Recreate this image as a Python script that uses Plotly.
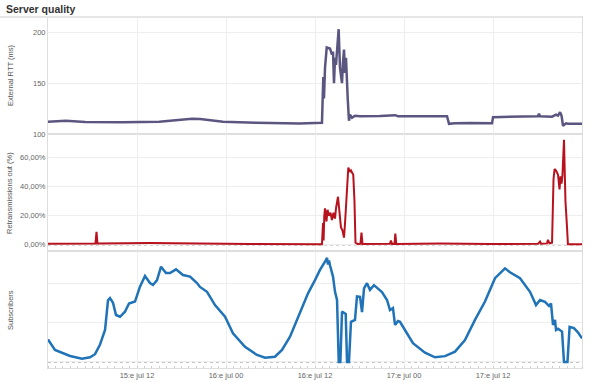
import datetime as dt
import plotly.graph_objects as go
from plotly.subplots import make_subplots

BASE = dt.datetime(2015, 7, 15, 0, 0)

# ---- External RTT (ms) ----
rtt_hours = [0, 2.4, 5, 10, 15, 19.4, 20.5, 23.6, 28, 33.9, 36.94, 37.12, 37.21, 37.35, 37.58,
             38.02, 38.29, 38.43, 38.56, 38.70, 38.83, 39.03, 39.19, 39.37, 39.64, 39.77, 39.91,
             40.05, 40.18, 40.41, 40.58, 40.72, 40.99, 41.39, 42.07, 44.77, 46.79, 47.19, 50.16,
             53.80, 54.07, 54.88, 56.9, 59.87, 60.0, 62.3, 66.07, 66.2, 66.34, 67.96, 68.5,
             68.77, 69.04, 69.24, 69.44, 69.84, 70.1, 72.0]
rtt_values = [112, 113, 111.8, 111.5, 112, 115, 114.7, 112, 111, 110.3, 111, 156, 135, 165, 185,
              184, 178, 181, 150, 175, 168, 185, 203, 165, 150, 170, 183,
              160, 175, 135, 113, 119, 116, 118, 117.5, 117.6, 118.5, 117.5, 117.3,
              117.5, 110, 110.5, 110.8, 110.5, 116.5, 116.8, 117.5, 120, 117.5, 117, 119,
              118, 121.5, 118, 108, 110.5, 110, 110]

# ---- Retransmissions out (%) ----
ret_hours = [0, 5.66, 6.4, 6.54, 6.67, 13.75, 19.15, 20.5, 27.2, 36.94, 37.08, 37.16, 37.25,
             37.35, 37.55, 37.69, 37.89, 38.09, 38.29, 38.49, 38.7, 38.83, 39.1, 39.3, 39.5,
             39.7, 39.91, 40.05, 40.25, 40.49, 40.72, 40.85, 41.16, 41.32, 41.46, 41.8, 42.13,
             42.27, 42.4, 43.4, 46.1, 46.24, 46.38, 46.72, 46.83, 46.96, 52.9, 59.6, 66.07,
             66.34, 66.47, 67.28, 67.41, 67.62, 67.96, 68.16, 68.3, 68.5, 68.77, 68.97, 69.1,
             69.24, 69.37, 69.57, 69.77, 69.98, 70.1, 72.0]
ret_values = [0.7, 0.9, 0.9, 9, 0.9, 1.3, 1.4, 1.0, 0.6, 0.5, 15, 3, 20,
              25, 16, 24, 20, 22, 17, 22, 18, 25, 33, 22, 12,
              10, 5, 15, 31, 53, 50, 51, 48, 30, 1.5, 0.5, 0.8,
              8.5, 0.6, 0.6, 0.8, 3, 0.7, 0.8, 7.7, 0.6, 0.9, 0.6, 0.7,
              2.3, 0.8, 1.0, 3.5, 1.0, 1.5, 45, 52, 51, 48, 38, 47,
              42, 48, 72, 30, 12, 0.5, 0.5]

# ---- Subscribers ----
sub_hours = [0, 0.94, 2.97, 4.58, 5.66, 6.34, 7.0, 7.69, 8.09, 8.36, 8.76, 9.17, 9.71, 10.38,
             10.92, 11.73, 12.4, 13.08, 13.75, 14.16, 14.7, 15.24, 15.91, 16.45, 17.26, 18.2,
             19.15, 20.09, 20.49, 21.44, 22.52, 23.87, 24.94, 26.56, 28.18, 29.26, 30.6, 31.55,
             32.63, 33.98, 35.06, 36.0, 36.67, 37.35, 37.62, 37.75, 37.89, 38.02, 38.43, 38.7,
             38.97, 39.2, 39.42, 39.64, 39.91, 40.14, 40.32, 40.58, 40.85, 41.39, 41.66, 42.07,
             42.34, 42.61, 43.01, 43.41, 43.95, 44.49, 45.03, 45.71, 46.11, 46.51, 46.79, 47.19,
             47.46, 48.13, 49.21, 50.83, 52.18, 53.53, 54.88, 56.22, 57.57, 58.92, 60.27, 61.62,
             62.29, 63.64, 64.99, 65.8, 66.34, 67.01, 67.55, 67.82, 67.96, 68.09, 68.36, 68.5,
             68.77, 69.31, 69.57, 70.04, 70.33, 70.91, 71.45, 72.0]
sub_values = [580, 310, 155, 85, 120, 200, 440, 820, 1580, 1640, 1520, 1205, 1160, 1290,
              1500, 1550, 1930, 2205, 2025, 1975, 2100, 2445, 2280, 2280, 2375, 2230,
              2190, 2025, 1925, 1800, 1460, 1160, 735, 390, 180, 110, 135, 310,
              650, 1250, 1760, 2100, 2360, 2570, 2670, 2500, 2600, 2480, 2190, 1800,
              1590, 0, 0, 1290, 1250, 1230, 0, 0, 1030, 1080, 1680, 1670,
              1280, 1890, 2020, 1850, 1970, 1890, 1790, 1590, 1330, 1380, 950, 1050,
              1030, 820, 480, 240, 120, 150, 265, 565, 1080, 1550, 2150, 2400,
              2300, 2150, 1800, 1460, 1590, 1540, 1440, 1500, 1200, 950, 1080, 820,
              850, 780, 0, 0, 900, 870, 760, 605]

x_tick_hours = [12, 24, 36, 48, 60]
x_tick_text = ["15:e jul 12", "16:e jul 00", "16:e jul 12", "17:e jul 00", "17:e jul 12"]
ret_tick_vals = [0, 20, 40, 60]
ret_tick_text = ["0,00%", "20,00%", "40,00%", "60,00%"]
rtt_tick_vals = [100, 150, 200]


def to_time(hours):
    return [BASE + dt.timedelta(hours=h) for h in hours]


fig = make_subplots(rows=3, cols=1, shared_xaxes=True, vertical_spacing=0)

fig.add_trace(go.Scatter(x=to_time(rtt_hours), y=rtt_values, mode="lines",
                         line=dict(color="#5b5680", width=2.5), showlegend=False), row=1, col=1)
fig.add_trace(go.Scatter(x=to_time(ret_hours), y=ret_values, mode="lines",
                         line=dict(color="#b8121e", width=2), showlegend=False), row=2, col=1)
fig.add_trace(go.Scatter(x=to_time(sub_hours), y=sub_values, mode="lines",
                         line=dict(color="#1f73b6", width=2.5), showlegend=False), row=3, col=1)

grid = "#eeeeee"
border = "#dedede"
tickfont = dict(family="Liberation Sans", size=7.5, color="#666")

for r in (1, 2, 3):
    fig.update_xaxes(row=r, col=1, range=[BASE, BASE + dt.timedelta(hours=72)],
                     tickvals=to_time(x_tick_hours), ticktext=x_tick_text,
                     showgrid=True, gridcolor=grid, gridwidth=1,
                     showline=True, linecolor=border, linewidth=1, mirror=True,
                     zeroline=False, ticks="", tickfont=tickfont, automargin=False,
                     showticklabels=(r == 3))

fig.update_yaxes(row=1, col=1, range=[100, 215], tickvals=rtt_tick_vals,
                 showgrid=True, gridcolor=grid, zeroline=False, automargin=False,
                 showline=True, linecolor=border, linewidth=1, mirror=True,
                 ticks="", tickfont=tickfont)
fig.update_yaxes(row=2, col=1, range=[-4.2, 76], tickvals=ret_tick_vals, ticktext=ret_tick_text,
                 showgrid=True, gridcolor=grid, zeroline=False, automargin=False,
                 showline=True, linecolor=border, linewidth=1, mirror=True,
                 ticks="", tickfont=tickfont)
fig.update_yaxes(row=3, col=1, range=[-154, 2846], tickvals=[0, 1000, 2000],
                 showticklabels=False, automargin=False,
                 showgrid=True, gridcolor=grid, zeroline=False,
                 showline=True, linecolor=border, linewidth=1, mirror=True,
                 ticks="")

# dotted zero lines
for yref in ("y2", "y3"):
    fig.add_shape(type="line", xref="paper", yref=yref, x0=0, x1=1, y0=0, y1=0,
                  line=dict(color="#8a8a8a", width=1, dash="dot"), layer="below")

# minor hour ticks along the bottom axis
fig.update_xaxes(row=3, col=1, minor=dict(dtick=3600000, ticks="inside", ticklen=2,
                                          tickcolor="#d0d0d0", showgrid=False))

# title underline
fig.add_shape(type="line", xref="paper", yref="paper", x0=-48 / 534, x1=1, y0=1, y1=1,
              line=dict(color="#e6e6e6", width=2))

fig.add_annotation(text="<b>Server quality</b>", xref="paper", yref="paper",
                   x=(4 - 48) / 534, y=(368 - 8.5) / 351, xanchor="left", yanchor="middle",
                   showarrow=False, font=dict(family="Liberation Sans", size=10.5, color="#333"))

ytitle_font = dict(family="Liberation Sans", size=7.5, color="#555")
for text, yc in (("External RTT (ms)", 76), ("Retransmissions out (%)", 193),
                 ("Subscribers", 310)):
    fig.add_annotation(text=text, xref="paper", yref="paper", x=(10 - 48) / 534,
                       y=(368 - yc) / 351, textangle=-90, showarrow=False,
                       xanchor="center", yanchor="middle", font=ytitle_font)

fig.update_layout(width=597, height=382, margin=dict(l=48, r=15, t=17, b=14),
                  plot_bgcolor="white", paper_bgcolor="white")

fig.write_html("out.html", config={"displayModeBar": False},
               post_script="document.body.style.margin='0';document.body.style.padding='0';")
